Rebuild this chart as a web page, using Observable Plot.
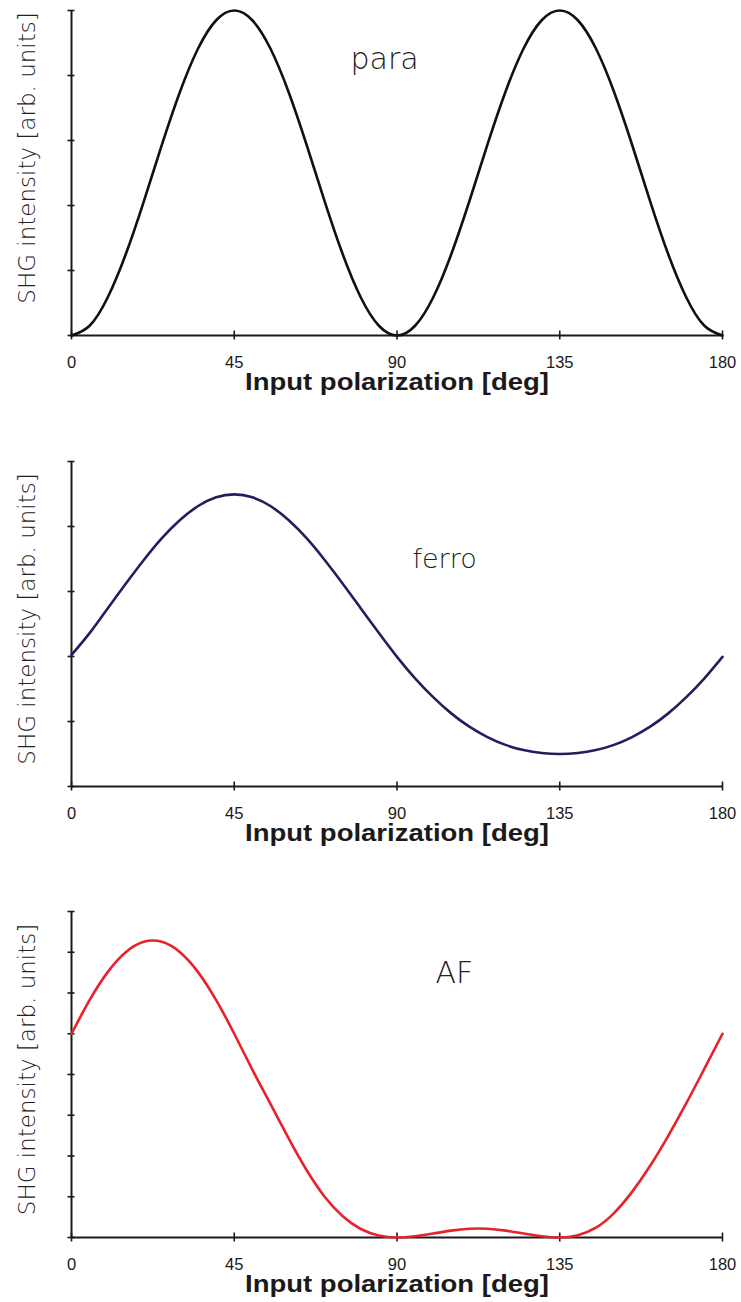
<!DOCTYPE html>
<html>
<head>
<meta charset="utf-8">
<script src="https://cdn.jsdelivr.net/npm/d3@7"></script>
<script src="https://cdn.jsdelivr.net/npm/@observablehq/plot@0.6"></script>
<style>
html, body { margin: 0; padding: 0; background: #fff; overflow: hidden; }
#chart svg { display: block; }
</style>
</head>
<body>
<div id="chart"></div>
<script>
// ---- data ----
const angles = [0,5,10,15,20,25,30,35,40,45,50,55,60,65,70,75,80,85,90,95,100,105,110,115,120,125,130,135,140,145,150,155,160,165,170,175,180];
const paraValues = [0,0.030,0.117,0.250,0.413,0.587,0.750,0.883,0.970,1.000,0.970,0.883,0.750,0.587,0.413,0.250,0.117,0.030,0,0.030,0.117,0.250,0.413,0.587,0.750,0.883,0.970,1.000,0.970,0.883,0.750,0.587,0.413,0.250,0.117,0.030,0];
const ferroValues = [0.405,0.472,0.548,0.624,0.697,0.764,0.820,0.863,0.890,0.899,0.890,0.863,0.820,0.764,0.697,0.624,0.548,0.472,0.399,0.333,0.275,0.225,0.184,0.152,0.128,0.112,0.103,0.100,0.103,0.112,0.128,0.152,0.184,0.225,0.275,0.333,0.399];
const afValues = [0.625,0.728,0.814,0.875,0.907,0.907,0.875,0.814,0.728,0.625,0.515,0.410,0.305,0.207,0.125,0.065,0.026,0.006,0,0.004,0.012,0.021,0.027,0.027,0.021,0.012,0.004,0,0.007,0.030,0.075,0.140,0.220,0.312,0.412,0.518,0.625];
const xTicks = [0,45,90,135,180];
const yTicksPara = [0,0.2,0.4,0.6,0.8,1];
const yTicksFerro = [0,0.2,0.4,0.6,0.8,1];
const yTicksAF = [0,0.125,0.25,0.375,0.5,0.625,0.75,0.875,1];
const panelLabels = ["para","ferro","AF"];
const xTitle = "Input polarization [deg]";
const yTitle = "SHG intensity [arb. units]";

const axisColor = "#1a1a1a";
const lightFont = "DejaVu Sans, Noto Sans, sans-serif";
const tickFont = "Liberation Sans, Arial, Helvetica, sans-serif";

function makePanel(cfg) {
  const data = angles.map((a, i) => ({angle: a, value: cfg.values[i]}));
  const plot = Plot.plot({
    width: 741,
    height: cfg.height,
    marginLeft: 71,
    marginRight: 19,
    marginTop: cfg.marginTop,
    marginBottom: cfg.marginBottom,
    style: {background: "white", fontFamily: tickFont, color: axisColor},
    x: {domain: [0, 180], axis: null},
    y: {domain: [0, 1], axis: null},
    marks: [
      Plot.ruleY([0], {stroke: axisColor, strokeWidth: 2}),
      Plot.ruleX([0], {stroke: axisColor, strokeWidth: 2}),
      Plot.ruleX(xTicks, {x: d => d, y1: 0, y2: 0, insetTop: 4.5, insetBottom: 4.5, stroke: axisColor, strokeWidth: 1.6}),
      Plot.ruleY(cfg.yTicks, {y: d => d, x1: 0, x2: 0, insetLeft: 3.5, insetRight: 3.5, stroke: axisColor, strokeWidth: 1.6}),
      Plot.line(data, {x: "angle", y: "value", stroke: cfg.color, strokeWidth: 2.6, curve: "natural"}),
      Plot.text(xTicks, {x: d => d, text: d => String(d), frameAnchor: "bottom", dy: 32, lineAnchor: "bottom", textAnchor: "middle", fontSize: 16.5, fontFamily: tickFont, fill: axisColor}),
      Plot.text([xTitle], {text: d => d, frameAnchor: "bottom", dy: 54, lineAnchor: "bottom", textAnchor: "middle", fontSize: 23, fontWeight: "bold", fontFamily: tickFont, fill: axisColor}),
      Plot.text([yTitle], {text: d => d, frameAnchor: "left", rotate: -90, dx: -44, dy: cfg.yLabelDy, textAnchor: "middle", lineAnchor: "middle", fontSize: 23, fontWeight: 200, fontFamily: lightFont, fill: "#222"}),
      Plot.text([cfg.label], {text: d => d, frameAnchor: "top-left", dx: cfg.labelDx, dy: cfg.labelDy, textAnchor: "start", lineAnchor: "bottom", fontSize: cfg.labelSize, fontWeight: 200, fontFamily: lightFont, fill: "#222"})
    ]
  });
  d3.select(plot).selectAll("text")
    .filter(function() { return this.textContent === xTitle; })
    .attr("textLength", 304)
    .attr("lengthAdjust", "spacingAndGlyphs");
  return plot;
}

const chart = document.getElementById("chart");
chart.appendChild(makePanel({values: paraValues, color: "#111111", yTicks: yTicksPara, label: panelLabels[0], height: 450, marginTop: 10, marginBottom: 115, labelDx: 279, labelDy: 58, labelSize: 30, yLabelDy: -15}));
chart.appendChild(makePanel({values: ferroValues, color: "#20205e", yTicks: yTicksFerro, label: panelLabels[1], height: 450, marginTop: 11, marginBottom: 114, labelDx: 341, labelDy: 106, labelSize: 27, yLabelDy: -5}));
chart.appendChild(makePanel({values: afValues, color: "#e8222a", yTicks: yTicksAF, label: panelLabels[2], height: 402, marginTop: 11, marginBottom: 65, labelDx: 364, labelDy: 71, labelSize: 30, yLabelDy: -5}));
</script>
</body>
</html>
